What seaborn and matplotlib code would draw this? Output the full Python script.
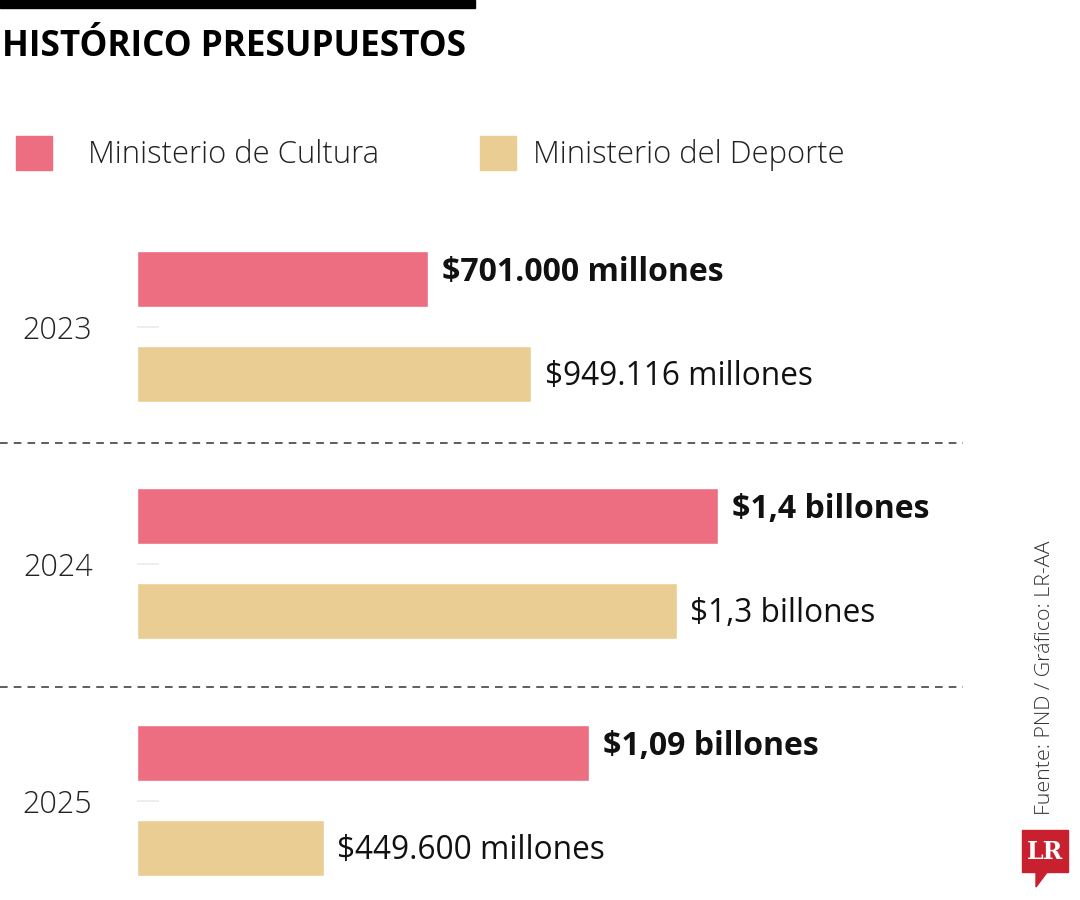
import matplotlib
matplotlib.use("Agg")
import pandas as pd
import seaborn as sns
import matplotlib.pyplot as plt
from matplotlib.patches import Rectangle, Polygon

# data (millions of pesos)
years = ["2023", "2024", "2025"]
ministries = ["Ministerio de Cultura", "Ministerio del Deporte"]
cultura = [701, 1400, 1090]
deporte = [949.116, 1300, 449.6]
labels_cultura = ["$701.000 millones", "$1,4 billones", "$1,09 billones"]
labels_deporte = ["$949.116 millones", "$1,3 billones", "$449.600 millones"]
colors = ["#EC6E80", "#E9CD92"]

df = pd.DataFrame({
    "year": years * 2,
    "ministry": [ministries[0]] * 3 + [ministries[1]] * 3,
    "value": cultura + deporte,
})

sns.set_theme(style="white")
plt.rcParams["font.family"] = ["Open Sans", "DejaVu Sans"]

fig = plt.figure(figsize=(10.8, 9), dpi=100)
ax = fig.add_axes([137 / 1080, 10 / 900, 823 / 1080, 680 / 900])

sns.barplot(data=df, y="year", x="value", hue="ministry", order=years,
            hue_order=ministries, palette=colors, orient="h",
            width=0.8, gap=0.41, saturation=1, ax=ax, legend=False)

ax.set_xlim(0, 1983)
ax.set_ylim(2.3776, -0.4916)
ax.set_xlabel("")
ax.set_ylabel("")
ax.set_xticks([])
for s in ax.spines.values():
    s.set_visible(False)
ax.set_yticks(range(len(years)))
ax.set_yticklabels(years, fontsize=22, fontweight="light", color="#222222")
ax.tick_params(axis="y", direction="in", length=16, width=1.2,
               color="#ebebeb", pad=32, left=True)

# value labels
for t in ax.bar_label(ax.containers[0], labels=labels_cultura, padding=10,
                      fontsize=23, fontweight="bold", color="#111111"):
    t.xyann = (t.xyann[0], 5)
for t in ax.bar_label(ax.containers[1], labels=labels_deporte, padding=10,
                      fontsize=22.8, color="#111111"):
    t.xyann = (t.xyann[0], -2)

# dashed separators between years
for yy in [0.49, 1.52]:
    ax.axhline(yy, xmin=-137 / 823, xmax=1.004, color="#333333", lw=1.1,
               ls=(0, (5, 4)), clip_on=False)

# top rule and title
fig.patches.append(Rectangle((0, 892 / 900), 475 / 1080, 8 / 900,
                             transform=fig.transFigure, color="black"))
fig.text(2 / 1080, 1 - 47 / 900, "HISTÓRICO PRESUPUESTOS", fontsize=25.3,
         fontweight="bold", va="center", ha="left", color="black")

# legend
for x0, tx, name, c in [(16, 88, ministries[0], colors[0]),
                        (480, 533, ministries[1], colors[1])]:
    fig.patches.append(Rectangle((x0 / 1080, 1 - 170 / 900), 36 / 1080, 34 / 900,
                                 transform=fig.transFigure, color=c))
    fig.text(tx / 1080, 1 - 155 / 900, name, fontsize=22.3,
             fontweight="light", va="center", ha="left", color="#222222")

# source
fig.text(1045 / 1080, 1 - 678 / 900, "Fuente: PND / Gráfico: LR-AA",
         rotation=90, fontsize=15.4, fontweight="light", va="center",
         ha="center", color="#333333")

# LR logo
red = "#C8202F"
fig.patches.append(Rectangle((1022 / 1080, 1 - 872 / 900), 46 / 1080, 42 / 900,
                             transform=fig.transFigure, color=red))
fig.patches.append(Polygon([(1036 / 1080, 1 - 871 / 900), (1048 / 1080, 1 - 871 / 900),
                            (1036 / 1080, 1 - 887 / 900)],
                           transform=fig.transFigure, color=red))
fig.text(1045 / 1080, 1 - 852 / 900, "LR", fontsize=17, fontweight="bold",
         family=["DejaVu Serif"], color="white", ha="center", va="center")

fig.savefig("out.png", dpi=100)
